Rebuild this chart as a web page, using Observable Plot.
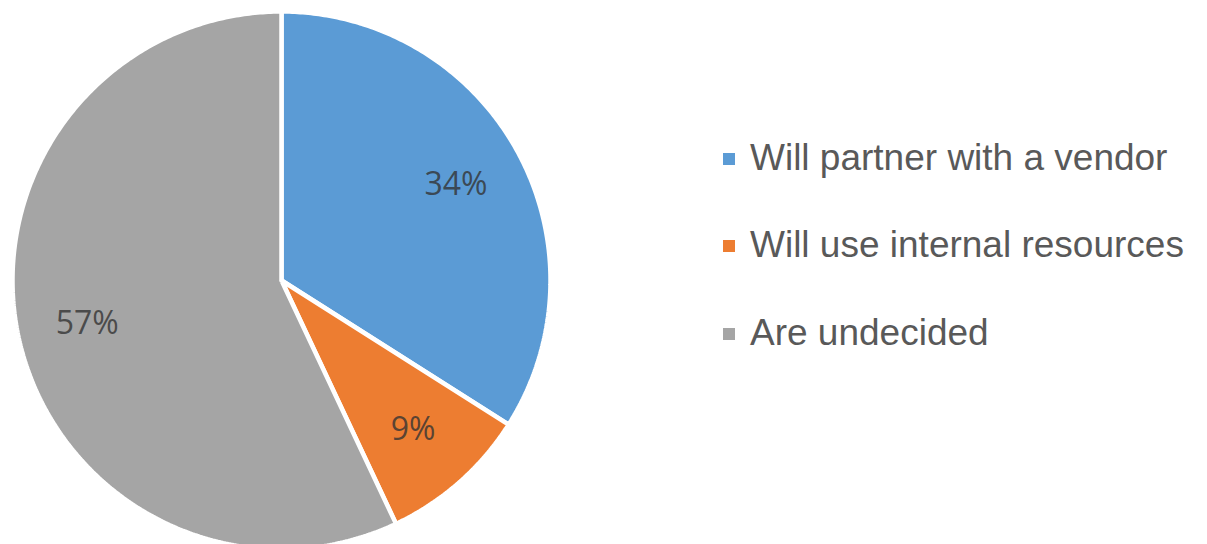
<!DOCTYPE html>
<html>
<head>
<meta charset="utf-8">
<script src="https://cdn.jsdelivr.net/npm/d3@7"></script>
<script src="https://cdn.jsdelivr.net/npm/@observablehq/plot@0.6"></script>
<style>
  html, body { margin: 0; padding: 0; background: #fff; }
  #wrap { position: relative; width: 1207px; height: 544px; overflow: hidden; }
  #legend { position: absolute; left: 723px; top: 114px; font-family: "Liberation Sans", Arial, sans-serif; font-size: 37px; color: #595959; }
  #legend .row { display: flex; align-items: center; height: 87.5px; }
  #legend .sw { width: 12px; height: 12px; margin-right: 15px; margin-top: 2px; }
</style>
</head>
<body>
<div id="wrap"><div id="legend"></div></div>
<script>
const categories = ["Will partner with a vendor", "Will use internal resources", "Are undecided"];
const values = [34, 9, 57];
const labels = ["34%", "9%", "57%"];
const colors = ["#5B9BD5", "#ED7D31", "#A5A5A5"];

const W = 1207, H = 544;
const cx = 281, cy = 280, R = 269;

const pie = d3.pie().sort(null).value(d => d.value)(
  categories.map((c, i) => ({name: c, value: values[i], label: labels[i], color: colors[i]}))
);

// polygon outline for each slice (center -> arc -> center), angles clockwise from top
const pts = [];
pie.forEach(s => {
  const n = Math.max(8, Math.ceil((s.endAngle - s.startAngle) / 0.01));
  pts.push({name: s.data.name, x: 0, y: 0});
  for (let k = 0; k <= n; k++) {
    const a = s.startAngle + (s.endAngle - s.startAngle) * k / n;
    pts.push({name: s.data.name, x: Math.sin(a), y: Math.cos(a)});
  }
  pts.push({name: s.data.name, x: 0, y: 0});
});

const labelPts = pie.map(s => {
  const a = (s.startAngle + s.endAngle) / 2;
  const r = 0.74;
  return {label: s.data.label, x: r * Math.sin(a), y: r * Math.cos(a)};
});

const chart = Plot.plot({
  width: W,
  height: H,
  margin: 0,
  x: {domain: [-cx / R, (W - cx) / R], axis: null},
  y: {domain: [-(H - cy) / R, cy / R], axis: null},
  color: {domain: categories, range: colors},
  marks: [
    Plot.line(pts, {x: "x", y: "y", z: "name", fill: "name", stroke: "white", strokeWidth: 4.5, strokeLinejoin: "miter", curve: "linear"}),
    Plot.text(labelPts, {x: "x", y: "y", text: "label", fontSize: 32, fill: "#333333", fillOpacity: 0.8, fontFamily: "'Open Sans', sans-serif"})
  ]
});
document.getElementById("wrap").prepend(chart);

const legend = document.getElementById("legend");
categories.forEach((c, i) => {
  const row = document.createElement("div");
  row.className = "row";
  const sw = document.createElement("div");
  sw.className = "sw";
  sw.style.background = colors[i];
  const t = document.createElement("span");
  t.textContent = c;
  row.appendChild(sw);
  row.appendChild(t);
  legend.appendChild(row);
});
</script>
</body>
</html>
